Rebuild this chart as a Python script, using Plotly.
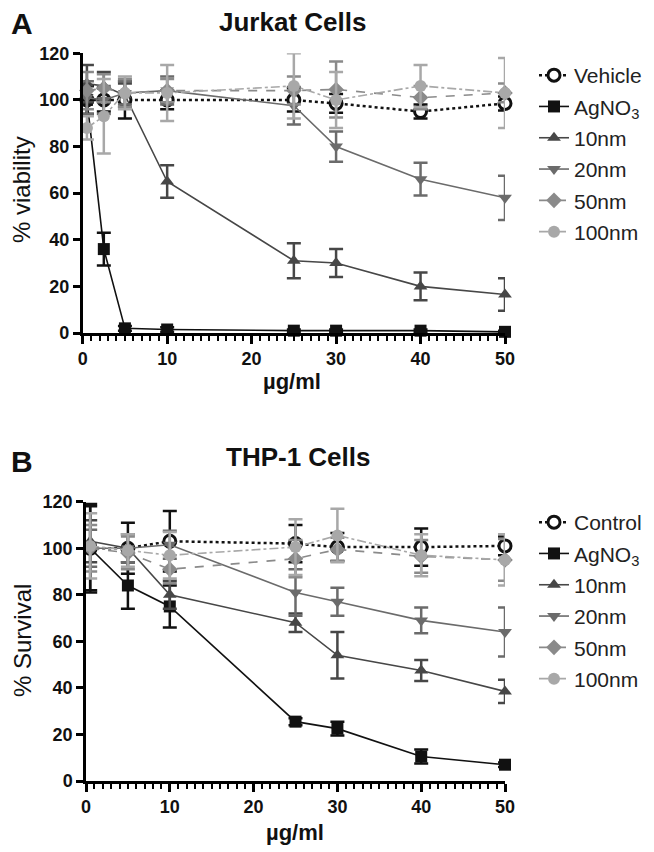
import plotly.graph_objects as go
from plotly.subplots import make_subplots

# Jurkat cells (panel A)
x_a = [0.5, 2.5, 5, 10, 25, 30, 40, 50]
vehicle_a = [100, 100, 100, 100, 100, 98.5, 95, 98.5]
vehicle_a_err = [6, 5, 8, 4, 5, 4, 3, 3]
agno3_a = [100, 36, 2, 1.5, 1, 1, 1, 0.5]
agno3_a_err = [6, 7, 1, 1, 0.5, 0.5, 0.5, 0.5]
nm10_a = [107, 106, 102, 65, 31, 30, 20, 16.5]
nm10_a_err = [8, 6, 5, 7, 7.5, 6, 6, 7]
nm20_a = [101, 100, 103, 104, 97.5, 80, 66, 58]
nm20_a_err = [7, 6, 5, 6, 8, 6.5, 7, 9.5]
nm50_a = [104, 105, 103, 104, 104, 104.5, 101, 103]
nm50_a_err = [8, 6, 6, 5, 6, 12, 5, 4]
nm100_a = [88, 93, 103, 103, 106, 100, 106, 103]
nm100_a_err = [5, 16, 7, 12, 14, 12, 9, 15]

# THP-1 cells (panel B)
x_b = [0.5, 5, 10, 25, 30, 40, 50]
control_b = [100, 100, 103, 102, 100.5, 100.5, 101]
control_b_err = [18, 11, 13, 8, 6, 8, 4]
agno3_b = [100, 84, 75, 25.5, 22.5, 10.5, 7]
agno3_b_err = [19, 10, 9, 1.5, 3, 3, 1]
nm10_b = [103, 100, 80, 68, 54, 47.5, 38.5]
nm10_b_err = [9, 6, 6, 4, 10, 4.5, 5]
nm20_b = [100, 100, 101.5, 81, 77, 69, 64]
nm20_b_err = [8, 6, 6, 10, 6, 5.5, 10.5]
nm50_b = [100, 98, 91, 95.5, 99.5, 96.5, 95]
nm50_b_err = [10, 7, 6, 8, 5, 7, 9]
nm100_b = [101, 99, 97, 100.5, 105.5, 97, 95]
nm100_b_err = [14, 7, 10, 12, 11.5, 9, 11]

black = "#111111"
c10 = "#474747"
c20 = "#6b6b6b"
c50 = "#8a8a8a"
c100 = "#a8a8a8"

# the page has an 8px body margin, so the figure is drawn 8px in from the corner
W, H, OFF = 646, 844, 8

def fx(px):
    return (px - OFF) / W

def fy(py):
    return 1 - (py - OFF) / H

fig = make_subplots(rows=2, cols=1)

def add_series(x, y, err, name, color, symbol, dash, row, legend, fill=None, lw=1.6):
    mk = dict(symbol=symbol, size=12, color=fill if fill else color,
              line=dict(color=color, width=3 if fill else 0))
    fig.add_trace(go.Scatter(
        x=x, y=y, name=name, mode="lines+markers",
        line=dict(color=color, width=lw, dash=dash),
        marker=mk, cliponaxis=False,
        error_y=dict(type="data", array=err, color=color, thickness=2.5, width=7),
        legend=legend, legendgroup=legend + name,
    ), row=row, col=1)

add_series(x_a, vehicle_a, vehicle_a_err, "Vehicle", black, "circle", "dot", 1, "legend", fill="white", lw=2.5)
add_series(x_a, agno3_a, agno3_a_err, "AgNO<sub>3</sub>", black, "square", "solid", 1, "legend")
add_series(x_a, nm10_a, nm10_a_err, "10nm", c10, "triangle-up", "solid", 1, "legend")
add_series(x_a, nm20_a, nm20_a_err, "20nm", c20, "triangle-down", "solid", 1, "legend")
add_series(x_a, nm50_a, nm50_a_err, "50nm", c50, "diamond", "dash", 1, "legend")
add_series(x_a, nm100_a, nm100_a_err, "100nm", c100, "circle", "dashdot", 1, "legend")

add_series(x_b, control_b, control_b_err, "Control", black, "circle", "dot", 2, "legend2", fill="white", lw=2.5)
add_series(x_b, agno3_b, agno3_b_err, "AgNO<sub>3</sub>", black, "square", "solid", 2, "legend2")
add_series(x_b, nm10_b, nm10_b_err, "10nm", c10, "triangle-up", "solid", 2, "legend2")
add_series(x_b, nm20_b, nm20_b_err, "20nm", c20, "triangle-down", "solid", 2, "legend2")
add_series(x_b, nm50_b, nm50_b_err, "50nm", c50, "diamond", "dash", 2, "legend2")
add_series(x_b, nm100_b, nm100_b_err, "100nm", c100, "circle", "dashdot", 2, "legend2")

font = "Liberation Sans, Arial, sans-serif"
tickfont = dict(family=font, size=18, color="#111", weight="bold")

xax = dict(range=[0, 50], dtick=10, showline=True, linecolor="black", linewidth=2.5,
           ticks="outside", ticklen=8, tickwidth=2.5, tickcolor="black",
           minor=dict(dtick=1, ticks="outside", ticklen=5, tickwidth=2, tickcolor="black"),
           showgrid=False, zeroline=False, tickfont=tickfont)
yax = dict(range=[0, 120], dtick=20, showline=True, linecolor="black", linewidth=2.5,
           ticks="outside", ticklen=7, tickwidth=2.5, tickcolor="black",
           showgrid=False, zeroline=False, tickfont=tickfont)

legfont = dict(family=font, size=21, color="#222")

fig.update_layout(
    width=W, height=H,
    margin=dict(l=0, r=0, t=0, b=0, autoexpand=False),
    plot_bgcolor="white", paper_bgcolor="white",
    xaxis=dict(xax, domain=[fx(82.7), fx(505)], anchor="y"),
    yaxis=dict(yax, domain=[fy(333), fy(53.3)], anchor="x"),
    xaxis2=dict(xax, domain=[fx(86), fx(505)], anchor="y2"),
    yaxis2=dict(yax, domain=[fy(781), fy(501.7)], anchor="x2"),
    legend=dict(x=fx(534), y=fy(55), xanchor="left", yanchor="top", font=legfont,
                traceorder="grouped", tracegroupgap=1, itemwidth=30),
    legend2=dict(x=fx(534), y=fy(502), xanchor="left", yanchor="top", font=legfont,
                 traceorder="grouped", tracegroupgap=1, itemwidth=30),
)

def note(text, x, y, size, bold=True, angle=0):
    fig.add_annotation(text=text, x=fx(x), y=fy(y), xref="paper", yref="paper",
                       showarrow=False, textangle=angle, xanchor="center", yanchor="middle",
                       font=dict(family=font, size=size, color="#111",
                                 weight="bold" if bold else "normal"))

note("A", 22, 24, 30)
note("Jurkat Cells", 292, 22, 26)
note("% viability", 22, 190, 24, bold=False, angle=-90)
note("µg/ml", 292, 381, 22)

note("B", 22, 462, 30)
note("THP-1 Cells", 298, 457, 26)
note("% Survival", 22, 641, 24, bold=False, angle=-90)
note("µg/ml", 295, 832, 22)

fig.write_html("out.html")
